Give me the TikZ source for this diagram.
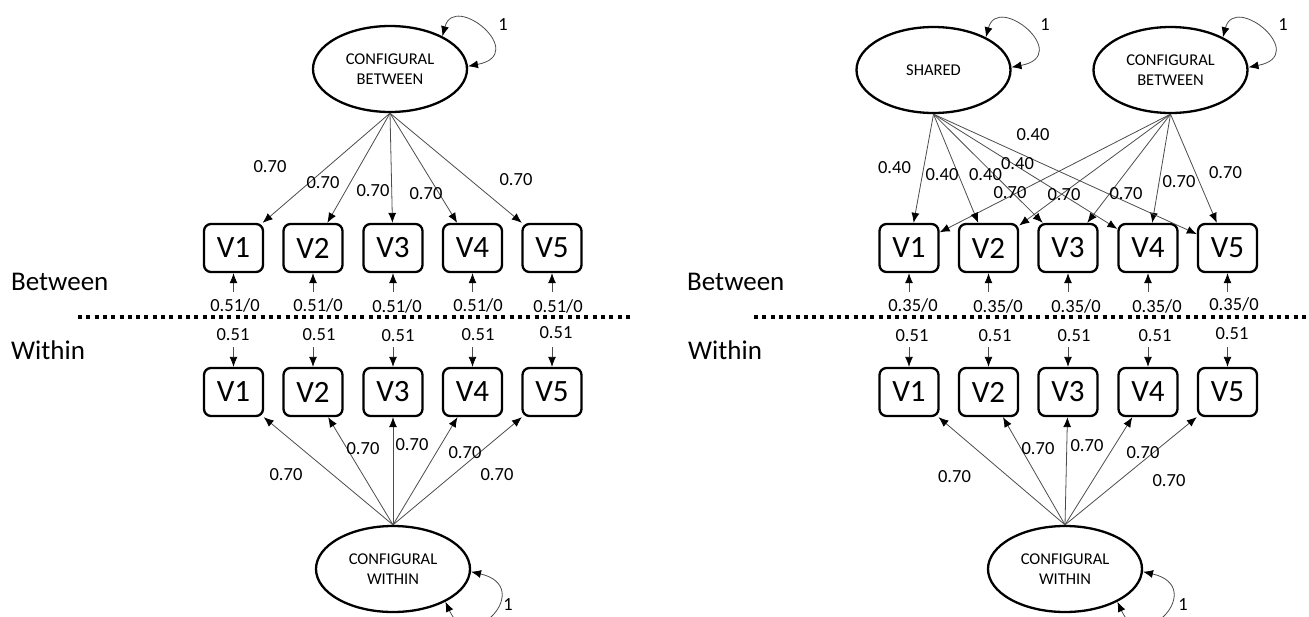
\documentclass[tikz,border=0pt]{standalone}
\usepackage{fontspec}
\setmainfont{Carlito}
\usetikzlibrary{arrows.meta,shapes.geometric}
\begin{document}
\begin{tikzpicture}[x=1pt,y=-1pt,
  obs/.style={draw, line width=2.3pt, rounded corners=7pt, minimum width=59pt, minimum height=48pt, inner sep=0pt, font=\fontsize{31}{31}\selectfont},
  lat/.style={draw, ellipse, line width=2.3pt, minimum width=154pt, minimum height=86pt, inner sep=0pt, align=center, font=\fontsize{16.5}{20}\selectfont},
  load/.style={draw=black!70, line width=0.8pt, -{Latex[length=10pt,width=8pt,color=black]}},
  dbl/.style={draw=black!70, line width=0.8pt, {Latex[length=10pt,width=8pt,color=black]}-{Latex[length=10pt,width=8pt,color=black]}},
  lbl/.style={inner sep=0pt, font=\fontsize{18.5}{20}\selectfont},
  lvl/.style={inner sep=0pt, anchor=west, font=\fontsize{27}{30}\selectfont},
  sepline/.style={line width=4pt, dash pattern=on 4pt off 4.3pt}
]
\useasboundingbox (0,0) rectangle (1309,616);

% ---------------- separators and level labels
\coordinate (LS1) at (78,317);
\coordinate (LS2) at (631,317);
\coordinate (RS1) at (754,317);
\coordinate (RS2) at (1309,317);
\draw[sepline] (LS1) -- (LS2);
\draw[sepline] (RS1) -- (RS2);
\node[lvl] (lbetween) at (11,282) {Between};
\node[lvl] (lwithin) at (11,350) {Within};
\node[lvl] (rbetween) at (687,282) {Between};
\node[lvl] (rwithin) at (688,350) {Within};

% ---------------- left model
\node[lat] (LCB) at (390,69) {CONFIGURAL\\BETWEEN};
\node[lat] (LCW) at (393,569) {CONFIGURAL\\WITHIN};
\foreach \i/\x in {1/233.5,2/313,3/393,4/472.5,5/552} {
  \node[obs] (LB\i) at (\x,248) {V\i};
  \node[obs] (LW\i) at (\x,392) {V\i};
  \coordinate (LE\i) at (\x,292);
  \coordinate (LF\i) at (\x,347);
  \draw[load] (LCB.south) -- (LB\i);
  \draw[load] (LE\i) -- (LB\i.south);
  \draw[load] (LF\i) -- (LW\i.north);
  \draw[load] (LCW.north) -- (LW\i);
}
\draw[dbl] (LCB.32) .. controls +(12,-45) and +(62,-12) .. (LCB.2);
\draw[dbl] (LCW.-2) .. controls +(65,15) and +(25,55) .. (LCW.-32);
\node[lbl] (lone1) at (503,25) {1};
\node[lbl] (lone2) at (508,605) {1};

\foreach \n/\x/\y in {1/270/167,2/323/183,3/373/191,4/426/194,5/516/180}
  \node[lbl] (lbl\n) at (\x,\y) {0.70};
\foreach \n/\x/\y in {1/235/305,2/318/305,3/397/306,4/478/305,5/558/306}
  \node[lbl] (lbv\n) at (\x,\y) {0.51/0};
\foreach \n/\x/\y in {1/233/335,2/319/335,3/398/336,4/478/335,5/556/333}
  \node[lbl] (lwv\n) at (\x,\y) {0.51};
\foreach \n/\x/\y in {1/286/475,2/363/449,3/412/445,4/465/453,5/497/475}
  \node[lbl] (lwl\n) at (\x,\y) {0.70};

% ---------------- right model
\node[lat] (RSH) at (933.5,70) {SHARED};
\node[lat] (RCB) at (1170.5,70) {CONFIGURAL\\BETWEEN};
\node[lat] (RCW) at (1065,569) {CONFIGURAL\\WITHIN};
\foreach \i/\x in {1/909,2/988.5,3/1068,4/1148,5/1227.5} {
  \node[obs] (RB\i) at (\x,248) {V\i};
  \node[obs] (RW\i) at (\x,392) {V\i};
  \coordinate (RE\i) at (\x,292);
  \coordinate (RF\i) at (\x,347);
  \draw[load] (RSH.south) -- (RB\i);
  \draw[load] (RCB.south) -- (RB\i);
  \draw[load] (RE\i) -- (RB\i.south);
  \draw[load] (RF\i) -- (RW\i.north);
  \draw[load] (RCW.north) -- (RW\i);
}
\draw[dbl] (RSH.32) .. controls +(12,-45) and +(62,-12) .. (RSH.2);
\draw[dbl] (RCB.32) .. controls +(12,-45) and +(62,-12) .. (RCB.2);
\draw[dbl] (RCW.-2) .. controls +(65,15) and +(25,55) .. (RCW.-32);
\node[lbl] (rone1) at (1045,25) {1};
\node[lbl] (rone2) at (1283,25) {1};
\node[lbl] (rone3) at (1183,605) {1};

\foreach \n/\x/\y in {1/894.5/168,2/942/175,3/985.5/175,4/1017.5/164,5/1033/135}
  \node[lbl] (rsl\n) at (\x,\y) {0.40};
\foreach \n/\x/\y in {1/1010/193,2/1064/195,3/1126/194,4/1179/182,5/1225.5/173}
  \node[lbl] (rcl\n) at (\x,\y) {0.70};
\foreach \n/\x/\y in {1/913/305,2/998/306,3/1076/306,4/1157/306,5/1234/304}
  \node[lbl] (rbv\n) at (\x,\y) {0.35/0};
\foreach \n/\x/\y in {1/912/336,2/995/336,3/1074/336,4/1155/336,5/1232/334}
  \node[lbl] (rwv\n) at (\x,\y) {0.51};
\foreach \n/\x/\y in {1/954.5/477,2/1038/449,3/1087/446,4/1143/453,5/1169/481}
  \node[lbl] (rwl\n) at (\x,\y) {0.70};
\end{tikzpicture}
\end{document}
